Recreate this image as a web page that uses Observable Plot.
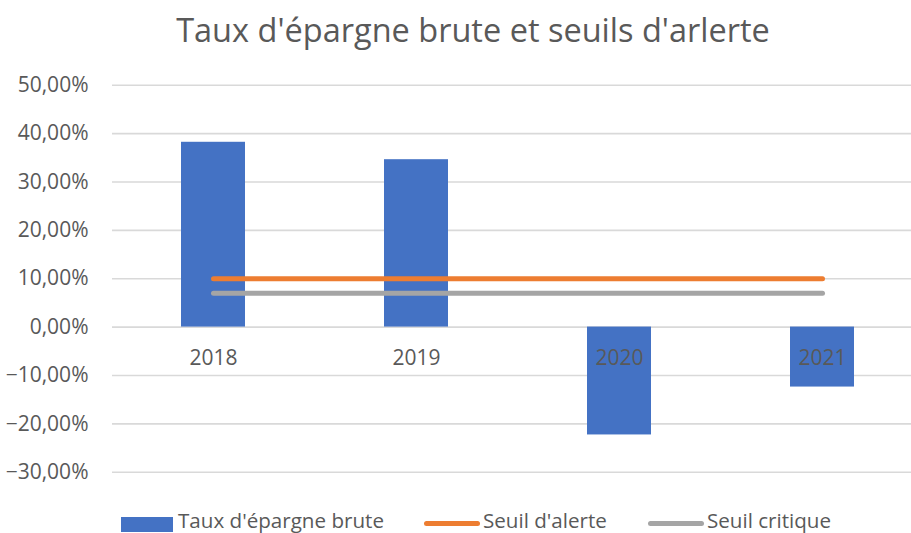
<!DOCTYPE html>
<html>
<head>
<meta charset="utf-8">
<script src="https://cdn.jsdelivr.net/npm/d3@7"></script>
<script src="https://cdn.jsdelivr.net/npm/@observablehq/plot@0.6"></script>
<style>
  body { margin: 0; background: #fff; font-family: "Open Sans", sans-serif; }
  #wrap { position: relative; width: 911px; height: 533px; overflow: hidden; }
  #title { position: absolute; left: 0; width: 946px; top: 14px; height: 32px; line-height: 32px;
           text-align: center; font-size: 32.5px; color: #595959; white-space: nowrap; }
  #chart { position: absolute; left: 0; top: 62px; }
  .leg { position: absolute; top: 507px; height: 26px; line-height: 26px; font-size: 20.6px; color: #595959; white-space: nowrap; }
  .sw { position: absolute; }
</style>
</head>
<body>
<div id="wrap">
  <div id="title">Taux d'épargne brute et seuils d'arlerte</div>
  <div id="chart"></div>
  <div id="legend"></div>
</div>
<script>
// ---- Data ----
const years = ["2018", "2019", "2020", "2021"];
const tauxEpargneBrute = [38.2, 34.6, -22.3, -12.4];
const seuilAlerte = [10, 10, 10, 10];
const seuilCritique = [7, 7, 7, 7];
const yTicks = [-30, -20, -10, 0, 10, 20, 30, 40, 50];
const seriesNames = ["Taux d'épargne brute", "Seuil d'alerte", "Seuil critique"];
const seriesColors = ["#4472C4", "#ED7D31", "#A5A5A5"];

const data = years.map((y, i) => ({
  year: y,
  taux: tauxEpargneBrute[i],
  alerte: seuilAlerte[i],
  critique: seuilCritique[i]
}));

const fmt = d => d3.format(".2f")(d).replace(".", ",") + "%";

const chart = Plot.plot({
  width: 911,
  height: 440,
  marginLeft: 112,
  marginRight: 0,
  marginTop: 0,
  marginBottom: 0,
  style: { fontFamily: "Open Sans, sans-serif", fontSize: "21px", color: "#595959", background: "transparent", overflow: "visible" },
  x: { domain: years, range: [111.5, 923.5], paddingInner: 0.685, paddingOuter: 0.3425, axis: null },
  y: { domain: [-30, 50], range: [409.7, 22.7], axis: null },
  marks: [
    Plot.ruleY(yTicks, { stroke: "#D9D9D9", strokeWidth: 1.6 }),
    Plot.barY(data, { x: "year", y: "taux", fill: seriesColors[0] }),
    Plot.lineY(data, { x: "year", y: "alerte", stroke: seriesColors[1], strokeWidth: 5, strokeLinecap: "round" }),
    Plot.lineY(data, { x: "year", y: "critique", stroke: seriesColors[2], strokeWidth: 5, strokeLinecap: "round" }),
    Plot.text(years, { x: d => d, y: () => 0, dy: 31, text: d => d, fill: "#595959", fontSize: 21 }),
    Plot.axisY(yTicks, { tickSize: 0, tickPadding: 24, tickFormat: fmt, fontSize: 21, fill: "#595959" })
  ]
});
document.getElementById("chart").appendChild(chart);

// ---- Legend ----
const legend = document.getElementById("legend");
const legendItems = [
  { kind: "rect", swLeft: 121, swWidth: 52, textLeft: 178 },
  { kind: "line", swLeft: 424, swWidth: 56, textLeft: 483 },
  { kind: "line", swLeft: 648, swWidth: 56, textLeft: 707 }
];
legendItems.forEach((it, i) => {
  const sw = document.createElement("div");
  sw.className = "sw";
  if (it.kind === "rect") {
    sw.style.cssText = `left:${it.swLeft}px;top:517px;width:${it.swWidth}px;height:15px;background:${seriesColors[i]};`;
  } else {
    sw.style.cssText = `left:${it.swLeft}px;top:521px;width:${it.swWidth}px;height:5px;border-radius:2.5px;background:${seriesColors[i]};`;
  }
  legend.appendChild(sw);
  const t = document.createElement("div");
  t.className = "leg";
  t.style.left = it.textLeft + "px";
  t.textContent = seriesNames[i];
  legend.appendChild(t);
});
</script>
</body>
</html>
